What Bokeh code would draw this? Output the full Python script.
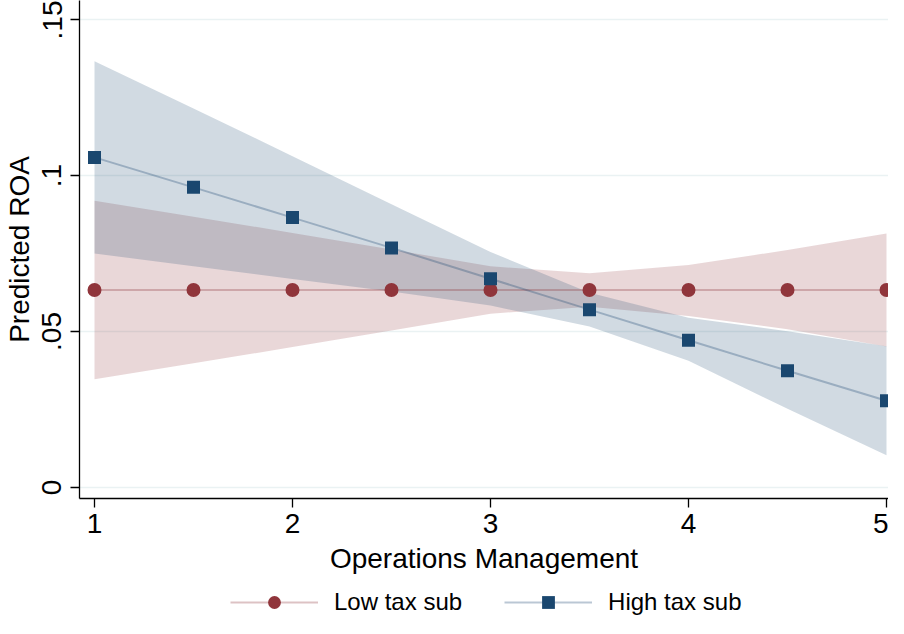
from bokeh.plotting import figure
from bokeh.layouts import column
from bokeh.models import Range1d, FixedTicker, Legend, LegendItem
from bokeh.embed import file_html
from bokeh.resources import INLINE

# margins plot: predicted ROA by operations management score
ops_mgmt = [1, 1.5, 2, 2.5, 3, 3.5, 4, 4.5, 5]

low_pred = [0.0633, 0.0633, 0.0633, 0.0633, 0.0633, 0.0633, 0.0633, 0.0633, 0.0633]
low_lo = [0.0347, 0.0398, 0.0450, 0.0503, 0.0557, 0.0579, 0.0550, 0.0507, 0.0452]
low_hi = [0.0919, 0.0868, 0.0816, 0.0763, 0.0709, 0.0687, 0.0713, 0.0761, 0.0814]

high_pred = [0.1058, 0.0962, 0.0865, 0.0768, 0.0669, 0.0570, 0.0472, 0.0374, 0.0278]
high_lo = [0.0750, 0.0709, 0.0668, 0.0628, 0.0583, 0.0516, 0.0406, 0.0252, 0.0103]
high_hi = [0.1366, 0.1215, 0.1062, 0.0908, 0.0755, 0.0624, 0.0544, 0.0501, 0.0453]

x_ticks = [1, 2, 3, 4, 5]
y_ticks = [0, 0.05, 0.1, 0.15]
y_tick_labels = ["0", ".05", ".1", ".15"]

MAROON = "#90353B"
NAVY = "#1A476F"
FONT = "Liberation Sans"

p = figure(width=888, height=580, output_backend="svg", toolbar_location=None,
           x_range=Range1d(0.92424, 5.0101), y_range=Range1d(-0.00353, 0.15609),
           min_border_left=79, min_border_right=0, min_border_top=0, min_border_bottom=82)
p.outline_line_color = None
p.background_fill_color = "white"
p.border_fill_color = "white"

# confidence bands
p.varea(x=ops_mgmt, y1=low_lo, y2=low_hi, fill_color=MAROON, fill_alpha=0.2)
p.varea(x=ops_mgmt, y1=high_lo, y2=high_hi, fill_color=NAVY, fill_alpha=0.2)

p.line(ops_mgmt, low_pred, line_color=MAROON, line_alpha=0.3, line_width=2)
p.line(ops_mgmt, high_pred, line_color=NAVY, line_alpha=0.3, line_width=2)
p.scatter(ops_mgmt, low_pred, marker="circle", size=14, fill_color=MAROON, line_color=None)
p.scatter(ops_mgmt, high_pred, marker="square", size=13, fill_color=NAVY, line_color=None)

# axes
p.xgrid.grid_line_color = None
p.ygrid.grid_line_color = "#EAF2F3"
p.ygrid.grid_line_width = 1.5
p.ygrid.ticker = FixedTicker(ticks=y_ticks)

p.xaxis.ticker = FixedTicker(ticks=x_ticks)
p.yaxis.ticker = FixedTicker(ticks=y_ticks)
p.yaxis.major_label_overrides = dict(zip(y_ticks, y_tick_labels))
p.yaxis.major_label_orientation = "vertical"

for ax in (p.xaxis[0], p.yaxis[0]):
    ax.axis_line_color = "black"
    ax.axis_line_width = 1.3
    ax.major_tick_line_color = "black"
    ax.major_tick_line_width = 1.3
    ax.major_tick_out = 9
    ax.major_tick_in = 0
    ax.minor_tick_line_color = None
    ax.major_label_text_font = FONT
    ax.major_label_text_font_size = "28px"
    ax.major_label_text_color = "black"
    ax.axis_label_text_font = FONT
    ax.axis_label_text_font_size = "28px"
    ax.axis_label_text_font_style = "normal"
    ax.axis_label_text_color = "black"

p.xaxis.axis_label = "Operations Management"
p.yaxis.axis_label = "Predicted ROA"
p.xaxis.major_label_standoff = 6
p.xaxis.axis_label_standoff = 7
p.yaxis.major_label_standoff = 9
p.yaxis.axis_label_standoff = 5

# legend strip underneath, its own small plot (frame is aligned with the one above)
leg = figure(width=888, height=38, output_backend="svg", toolbar_location=None,
             x_range=Range1d(0, 1), y_range=Range1d(0, 1),
             x_axis_type=None, y_axis_type=None,
             min_border_left=0, min_border_right=0, min_border_top=0, min_border_bottom=0)
leg.outline_line_color = None
leg.xgrid.grid_line_color = None
leg.ygrid.grid_line_color = None

# key glyphs only: a point parked outside the visible range
low_key = [leg.line([-10, -9], [-10, -10], line_color=MAROON, line_alpha=0.3, line_width=2),
           leg.scatter([-10], [-10], marker="circle", fill_color=MAROON, line_color=None)]
high_key = [leg.line([-10, -9], [-10, -10], line_color=NAVY, line_alpha=0.3, line_width=2),
            leg.scatter([-10], [-10], marker="square", fill_color=NAVY, line_color=None)]

legend = Legend(items=[
    LegendItem(label="Low tax sub", renderers=low_key),
    LegendItem(label="High tax sub", renderers=high_key),
], orientation="horizontal", location=(151, 0))
legend.glyph_width = 88
legend.glyph_height = 32
legend.label_standoff = 16
legend.spacing = 42
legend.label_text_font = FONT
legend.label_text_font_size = "24px"
legend.label_text_color = "black"
legend.border_line_color = None
legend.background_fill_alpha = 0
legend.padding = 3
legend.margin = 0
leg.add_layout(legend, "center")

open("out.html", "w").write(file_html(column(p, leg, spacing=0), INLINE))
